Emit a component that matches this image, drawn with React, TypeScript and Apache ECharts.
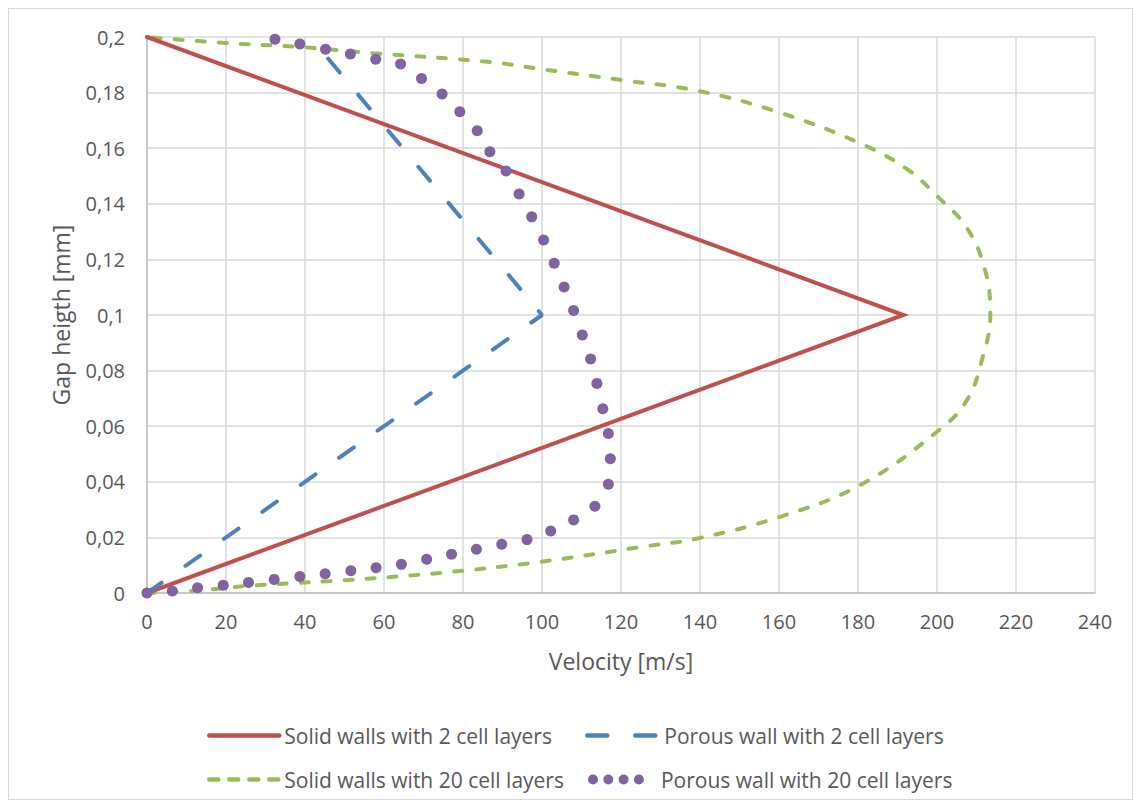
import React, { useEffect, useRef } from "react";
import * as echarts from "echarts";

// Velocity profiles across the gap: [velocity m/s, gap height mm]
const solid2: [number, number][] = [
  [0, 0],
  [191.5, 0.1],
  [0, 0.2],
];

const porous2: [number, number][] = [
  [0, 0],
  [100, 0.1],
  [41.3, 0.2],
];

const solid20: [number, number][] = [
  [0, 0],
  [14, 0.001],
  [25, 0.0025],
  [38, 0.0036],
  [50, 0.0046],
  [74, 0.0072],
  [99.5, 0.0112],
  [124.8, 0.0165],
  [140, 0.0198],
  [160, 0.0273],
  [180.5, 0.0388],
  [200, 0.058],
  [207.6, 0.0694],
  [211.6, 0.085],
  [213.5, 0.1],
  [212.2, 0.116],
  [207.6, 0.1312],
  [200, 0.1428],
  [192.4, 0.1525],
  [180.5, 0.1618],
  [160, 0.1729],
  [140, 0.1805],
  [119.7, 0.1846],
  [99.5, 0.1885],
  [86.8, 0.191],
  [57.2, 0.1942],
  [38.7, 0.1964],
  [19.2, 0.1979],
  [0, 0.2],
];

const porous20: [number, number][] = [
  [0, 0], [6.4, 0.0007], [12.8, 0.0019], [19.3, 0.0028], [25.7, 0.0038],
  [32.2, 0.0049], [38.7, 0.0059], [45.1, 0.0069], [51.6, 0.008], [58, 0.0091],
  [64.4, 0.0103], [70.8, 0.0121], [77.1, 0.0139], [83.4, 0.0157], [89.8, 0.0175],
  [96.2, 0.0192], [102.2, 0.0223], [108, 0.0263], [113.4, 0.0312], [116.8, 0.0391],
  [117.3, 0.0483], [116.8, 0.0574], [115.4, 0.0663], [113.9, 0.0754], [112.3, 0.0842],
  [110.2, 0.0928], [108, 0.1016], [105.6, 0.1101], [103.1, 0.1186], [100.4, 0.127],
  [97.4, 0.1353], [94.2, 0.1435], [90.9, 0.1518], [86.8, 0.1587], [83.6, 0.1663],
  [79.2, 0.1731], [74.7, 0.1795], [69.5, 0.1851], [64.2, 0.1903], [57.9, 0.192],
  [51.5, 0.1939], [45.2, 0.1956], [38.7, 0.1975], [32.4, 0.1992],
];

const seriesNames = [
  "Solid walls with 2 cell layers",
  "Porous wall with 2 cell layers",
  "Solid walls with 20 cell layers",
  "Porous wall with 20 cell layers",
];

const colors = ["#c0504d", "#4f81bd", "#9bbb59", "#8064a2"];

const FONT = "Open Sans";
const TEXT = "#595959";

// four dots used as the legend marker of the point series
const dotsIcon =
  "path://M0,5a5,5 0 1,0 10,0a5,5 0 1,0 -10,0Z" +
  "M15.3,5a5,5 0 1,0 10,0a5,5 0 1,0 -10,0Z" +
  "M30.6,5a5,5 0 1,0 10,0a5,5 0 1,0 -10,0Z" +
  "M45.9,5a5,5 0 1,0 10,0a5,5 0 1,0 -10,0Z";

const fmtComma = (v: number) =>
  String(Math.round(v * 1000) / 1000).replace(".", ",");

export default function App() {
  const ref = useRef<HTMLDivElement>(null);

  useEffect(() => {
    if (!ref.current) return;
    const chart = echarts.init(ref.current, undefined, { renderer: "svg" });

    const legendBase = {
      orient: "horizontal" as const,
      padding: 0,
      itemHeight: 12,
      textStyle: { fontFamily: FONT, fontSize: 21, color: TEXT, lineHeight: 20 },
      selectedMode: false,
    };

    chart.setOption({
      animation: false,
      backgroundColor: "#ffffff",
      textStyle: { fontFamily: FONT },
      grid: { left: 138, top: 28, width: 948, height: 556, containLabel: false },
      xAxis: {
        type: "value",
        min: 0,
        max: 240,
        interval: 20,
        name: "Velocity [m/s]",
        nameLocation: "middle",
        nameGap: 56,
        nameTextStyle: { fontFamily: FONT, fontSize: 23, color: TEXT },
        axisLine: { show: true, lineStyle: { color: "#bfbfbf", width: 1.5 } },
        axisTick: { show: false },
        axisLabel: { margin: 18, fontFamily: FONT, fontSize: 20, color: TEXT },
        splitLine: { show: true, lineStyle: { color: "#d9d9d9", width: 1.5 } },
      },
      yAxis: {
        type: "value",
        min: 0,
        max: 0.2,
        interval: 0.02,
        name: "Gap heigth [mm]",
        nameLocation: "middle",
        nameGap: 75,
        nameTextStyle: { fontFamily: FONT, fontSize: 23, color: TEXT },
        axisLine: { show: true, lineStyle: { color: "#bfbfbf", width: 1.5 } },
        axisTick: { show: false },
        axisLabel: {
          margin: 22,
          fontFamily: FONT,
          fontSize: 20,
          color: TEXT,
          formatter: fmtComma,
        },
        splitLine: { show: true, lineStyle: { color: "#d9d9d9", width: 1.5 } },
      },
      legend: [
        {
          ...legendBase,
          left: 198,
          top: 716,
          itemWidth: 70,
          data: [seriesNames[0]],
          itemStyle: { opacity: 0 },
          lineStyle: { width: 4.5, cap: "round" },
        },
        {
          ...legendBase,
          left: 576,
          top: 716,
          itemWidth: 72,
          data: [seriesNames[1]],
          itemStyle: { opacity: 0 },
          lineStyle: { width: 4.5, type: [20, 28], cap: "round" },
        },
        {
          ...legendBase,
          left: 198,
          top: 760,
          itemWidth: 70,
          data: [seriesNames[2]],
          itemStyle: { opacity: 0 },
          lineStyle: { width: 4.5, type: [9, 11], cap: "round" },
        },
        {
          ...legendBase,
          left: 579,
          top: 760,
          itemWidth: 56,
          itemHeight: 10,
          data: [{ name: seriesNames[3], icon: dotsIcon }],
          textStyle: { ...legendBase.textStyle, padding: [0, 0, 0, 12] },
        },
      ],
      series: [
        {
          name: seriesNames[0],
          type: "line",
          data: solid2,
          symbol: "none",
          color: colors[0],
          lineStyle: { color: colors[0], width: 4, cap: "round", join: "miter" },
          z: 2,
        },
        {
          name: seriesNames[1],
          type: "line",
          data: porous2,
          symbol: "none",
          color: colors[1],
          lineStyle: { color: colors[1], width: 4, type: [18, 29], cap: "round" },
          z: 3,
        },
        {
          name: seriesNames[2],
          type: "line",
          data: solid20,
          symbol: "none",
          smooth: 0.4,
          color: colors[2],
          lineStyle: { color: colors[2], width: 4, type: [8, 14], cap: "round" },
          z: 1,
        },
        {
          name: seriesNames[3],
          type: "scatter",
          data: porous20,
          symbol: "circle",
          symbolSize: 11,
          color: colors[3],
          itemStyle: { color: colors[3], opacity: 1 },
          z: 4,
        },
      ],
    });

    return () => chart.dispose();
  }, []);

  return (
    <div
      style={{
        width: 1125,
        height: 792,
        boxSizing: "border-box",
        border: "1px solid #d9d9d9",
        background: "#ffffff",
      }}
    >
      <div ref={ref} style={{ width: 1123, height: 790 }} />
    </div>
  );
}
